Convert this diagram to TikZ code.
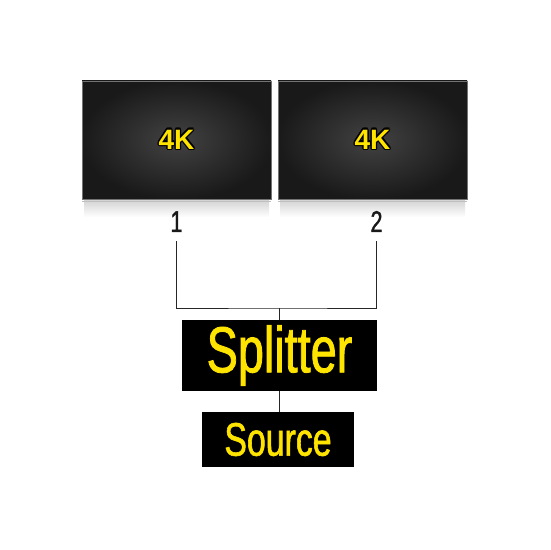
\documentclass[tikz,border=0pt]{standalone}
\usepackage{fontspec}
\usepackage{contour}
\usetikzlibrary{calc}

\newfontfamily\condfont[FakeStretch=0.72, FakeBold=1.2]{Liberation Sans}
\newfontfamily\heavyfont{Liberation Sans}
\definecolor{signyellow}{HTML}{FFE400}
\contourlength{1.2pt}
\contournumber{12}

\tikzset{
	screen/.style={draw=black!55, line width=.8pt, inner color=black!74, outer color=black!90, minimum width=189pt, minimum height=118pt, inner sep=0pt},
	port/.style={font=\condfont\fontsize{30}{30}\selectfont, text=black!90, text height=22pt, text depth=0pt, inner xsep=0pt, inner ysep=9pt},
	blackbox/.style={fill=black, text=signyellow, inner sep=0pt},
	wire/.style={draw=black!85, line width=.9pt}
}

\begin{document}
\begin{tikzpicture}[x=1pt, y=1pt]
	
	\useasboundingbox[fill=white] (0,0) rectangle (550,550);
	
	% shadow under the screens
	\shade[top color=black!16, bottom color=white] (84,349) rectangle (269,333);
	\shade[top color=black!16, bottom color=white] (280,349) rectangle (465,333);
	\draw[black!25, line width=.8pt] (82,348.5) -- (271,348.5);
	\draw[black!25, line width=.8pt] (278,348.5) -- (467,348.5);
	
	\node[screen] (screenA) at (176.5,410) {\heavyfont\bfseries\fontsize{28}{28}\selectfont\contour{black}{\textcolor{signyellow}{4K}}};
	\node[screen] (screenB) at (372.5,410) {\heavyfont\bfseries\fontsize{28}{28}\selectfont\contour{black}{\textcolor{signyellow}{4K}}};
	
	\node[port] (portA) at (176.5,329) {1};
	\node[port] (portB) at (376.5,329) {2};
	
	\node[blackbox, minimum width=195pt, minimum height=71pt, font=\condfont\fontsize{65}{65}\selectfont] (splitter) at (279.5,194.5) {Splitter};
	\node[blackbox, minimum width=152pt, minimum height=55pt, font=\condfont\fontsize{47}{47}\selectfont] (source) at (278,110.5) {Source};
	
	\coordinate (join) at (279,242);
	
	\draw[wire] (portA.south) |- (join) -| (portB.south);
	\draw[wire] (join) -- (join |- splitter.north);
	\draw[wire] (join |- splitter.south) -- (join |- source.north);
	
\end{tikzpicture}
\end{document}
